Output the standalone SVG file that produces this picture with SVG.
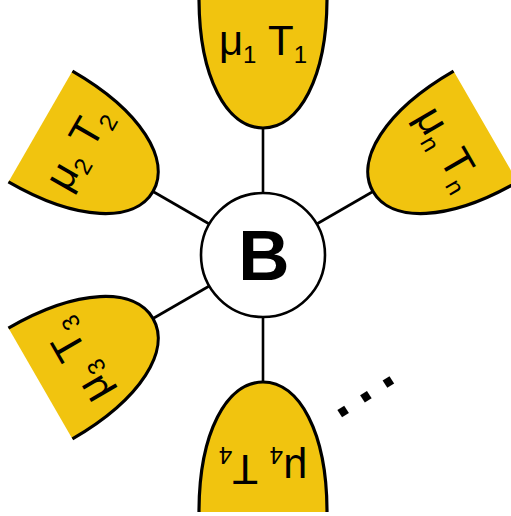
<svg xmlns="http://www.w3.org/2000/svg" xmlns:xlink="http://www.w3.org/1999/xlink" width="511" height="516" viewBox="0 0 511 516">
<style>
.cup{fill:#f1c40f;stroke:#000;stroke-width:3.2;stroke-linecap:butt}
.lbl{font-family:"Liberation Sans",Arial,sans-serif;font-size:42px;fill:#000}
.sub{font-size:24px}
.conn{stroke:#000;stroke-width:2.6}
</style>
<defs>
<path id="cupShape" class="cup" d="M199,-2 C199,78 227,128 263,128 C299,128 327,78 327,-2"/>
</defs>
<rect width="511" height="516" fill="#fff"/>
<g id="connectors">
<line class="conn" x1="263" y1="128" x2="263" y2="194"/>
<line class="conn" x1="263" y1="128" x2="263" y2="194" transform="rotate(60 263 255)"/>
<line class="conn" x1="263" y1="128" x2="263" y2="194" transform="rotate(-60 263 255)"/>
<line class="conn" x1="263" y1="128" x2="263" y2="194" transform="rotate(-120 263 255)"/>
<line class="conn" x1="263" y1="128" x2="263" y2="194" transform="rotate(180 263 255)"/>
</g>
<g id="cup1">
<use xlink:href="#cupShape"/>
<text class="lbl" x="263" y="55" text-anchor="middle">μ<tspan class="sub" dy="8">1</tspan><tspan dy="-8"> T</tspan><tspan class="sub" dy="8">1</tspan></text>
</g>
<g id="cupN" transform="rotate(60 263 255)">
<use xlink:href="#cupShape"/>
<text class="lbl" x="263" y="55" text-anchor="middle">μ<tspan class="sub" dy="8">n</tspan><tspan dy="-8"> T</tspan><tspan class="sub" dy="8">n</tspan></text>
</g>
<g id="cup2" transform="rotate(-60 263 255)">
<use xlink:href="#cupShape"/>
<text class="lbl" x="263" y="55" text-anchor="middle">μ<tspan class="sub" dy="8">2</tspan><tspan dy="-8"> T</tspan><tspan class="sub" dy="8">2</tspan></text>
</g>
<g id="cup3" transform="rotate(-120 263 255)">
<use xlink:href="#cupShape"/>
<text class="lbl" x="263" y="55" text-anchor="middle">μ<tspan class="sub" dy="8">3</tspan><tspan dy="-8"> T</tspan><tspan class="sub" dy="8">3</tspan></text>
</g>
<g id="cup4" transform="rotate(180 263 255)">
<use xlink:href="#cupShape"/>
<text class="lbl" x="263" y="55" text-anchor="middle">μ<tspan class="sub" dy="8">4</tspan><tspan dy="-8"> T</tspan><tspan class="sub" dy="8">4</tspan></text>
</g>
<g id="center">
<circle cx="263" cy="255" r="62" fill="#fff" stroke="#000" stroke-width="2.6"/>
<text x="264" y="280" text-anchor="middle" font-family="'Liberation Sans',Arial,sans-serif" font-weight="bold" font-size="71">B</text>
</g>
<g id="ellipsis">
<text transform="translate(366 397) rotate(-33)" x="-27 0 27" y="4" text-anchor="middle" font-family="'Liberation Sans',Arial,sans-serif" font-weight="bold" font-size="58">...</text>
</g>
</svg>
